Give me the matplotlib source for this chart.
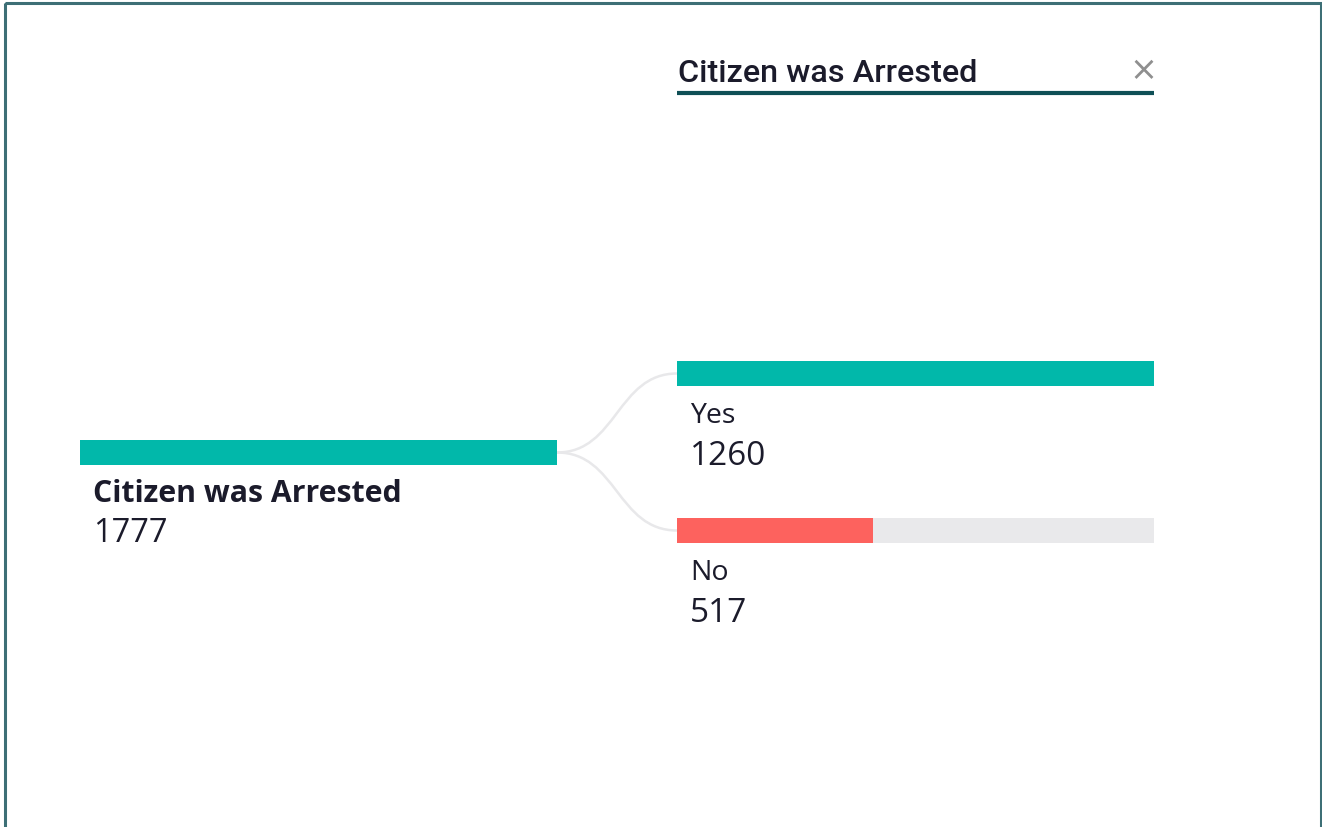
import matplotlib
matplotlib.use("Agg")
import matplotlib.pyplot as plt
from matplotlib.path import Path
from matplotlib.patches import PathPatch, Rectangle

# ---- data ----
header = "Citizen was Arrested"
root_label = "Citizen was Arrested"
root_value = 1777
child_labels = ["Yes", "No"]
child_values = [1260, 517]
child_colors = ["#01B8AA", "#FD625E"]

TEAL = "#01B8AA"
TRACK = "#E9E9EB"
TEXT = "#1b1b2b"

W, H = 1322, 828
fig = plt.figure(figsize=(W / 100, H / 100), dpi=100)
ax = fig.add_axes([0, 0, 1, 1])
ax.set_xlim(0, W)
ax.set_ylim(H, 0)
ax.axis("off")

# frame
ax.add_patch(Rectangle((5, 4), 1316, 900, fill=False, edgecolor="#3d6f76",
                       linewidth=2.2, zorder=5))

BAR_W = 477
BAR_H = 25
root_x, root_y = 80, 453.5
child_x = 677
child_ys = [374.5, 531.5]

# root bar
ax.barh([root_y], [BAR_W * root_value / root_value], left=root_x,
        height=BAR_H, color=TEAL, zorder=3)
ax.text(93, 494, root_label, fontsize=21.8, fontweight="bold", color=TEXT,
        family="Open Sans", va="center", ha="left")
ax.text(93, 534, f"{root_value}", fontsize=23.5, color=TEXT,
        family="Open Sans", va="center", ha="left")

# connectors
sx = root_x + BAR_W
for cy in child_ys:
    mid = (sx + child_x) / 2
    verts = [(sx, root_y), (mid, root_y), (mid, cy), (child_x, cy)]
    p = Path(verts, [Path.MOVETO, Path.CURVE4, Path.CURVE4, Path.CURVE4])
    ax.add_patch(PathPatch(p, facecolor="none", edgecolor="#E8E8EA",
                           linewidth=1.8, zorder=1))

# child bars
vmax = max(child_values)
ax.barh(child_ys, [BAR_W] * len(child_ys), left=child_x, height=BAR_H,
        color=TRACK, zorder=2)
ax.barh(child_ys, [BAR_W * v / vmax for v in child_values], left=child_x,
        height=BAR_H, color=child_colors, zorder=3)
for cy, lab, v in zip(child_ys, child_labels, child_values):
    ax.text(690, cy + 42, lab, fontsize=20.5, color=TEXT, family="Open Sans",
            va="center", ha="left")
    ax.text(690, cy + 82, f"{v}", fontsize=24, color=TEXT, family="Open Sans",
            va="center", ha="left")

# header
ax.text(678, 73, header, fontsize=23.3, fontweight="medium", color=TEXT,
        family="Roboto", va="center", ha="left")
ax.plot([child_x, child_x + BAR_W], [94, 94], color="#0f4f56", linewidth=3,
        solid_capstyle="butt")
ax.text(1143, 71, "\u00d7", fontsize=24, color="#8f8f8f", family="DejaVu Sans",
        va="center", ha="center")

fig.savefig("out.png", dpi=100)
